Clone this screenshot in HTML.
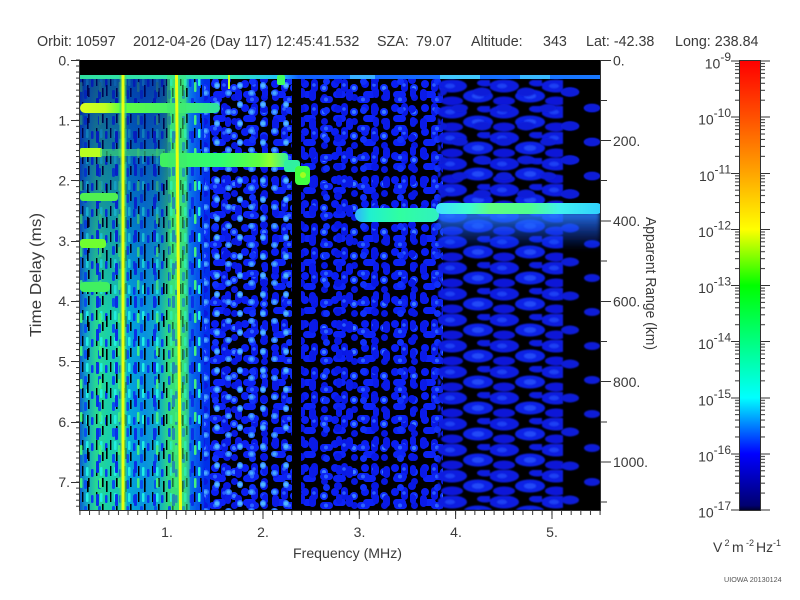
<!DOCTYPE html>
<html><head><meta charset="utf-8"><title>Ionogram</title>
<style>
html,body{margin:0;padding:0;background:#fff;width:800px;height:600px;overflow:hidden}
svg{display:block}
text{font-family:"Liberation Sans",Arial,Helvetica,sans-serif;fill:#3a3a3a}
</style></head><body>
<svg width="800" height="600" viewBox="0 0 800 600" xmlns="http://www.w3.org/2000/svg">
<defs>
<clipPath id="pc"><rect x="80" y="60" width="520" height="450"/></clipPath>
<linearGradient id="cb" x1="0" y1="0" x2="0" y2="1">
 <stop offset="0" stop-color="#ff0000"/>
 <stop offset="0.125" stop-color="#ff5000"/>
 <stop offset="0.25" stop-color="#ffa500"/>
 <stop offset="0.375" stop-color="#ffff00"/>
 <stop offset="0.5" stop-color="#00ff00"/>
 <stop offset="0.625" stop-color="#00ff80"/>
 <stop offset="0.75" stop-color="#00ffff"/>
 <stop offset="0.875" stop-color="#0000ff"/>
 <stop offset="0.99" stop-color="#000070"/>
 <stop offset="1" stop-color="#000030"/>
</linearGradient>
<linearGradient id="lg" gradientUnits="userSpaceOnUse" x1="80" y1="0" x2="205" y2="0">
 <stop offset="0" stop-color="#0a5cc8"/>
 <stop offset="0.048" stop-color="#10a0c8"/>
 <stop offset="0.128" stop-color="#28d890"/>
 <stop offset="0.224" stop-color="#18d0a8"/>
 <stop offset="0.312" stop-color="#18c8b0"/>
 <stop offset="0.384" stop-color="#00a8d8"/>
 <stop offset="0.52" stop-color="#0890e0"/>
 <stop offset="0.64" stop-color="#10b0c0"/>
 <stop offset="0.704" stop-color="#30d880"/>
 <stop offset="0.832" stop-color="#30d880"/>
 <stop offset="0.88" stop-color="#0878e8"/>
 <stop offset="1" stop-color="#0030ea"/>
</linearGradient>
<linearGradient id="td" gradientUnits="userSpaceOnUse" x1="0" y1="75" x2="0" y2="320">
 <stop offset="0" stop-color="#000a90" stop-opacity="0.65"/>
 <stop offset="1" stop-color="#000a90" stop-opacity="0"/>
</linearGradient>
<linearGradient id="s1" gradientUnits="userSpaceOnUse" x1="80" y1="0" x2="220" y2="0">
 <stop offset="0" stop-color="#d8ff20"/>
 <stop offset="0.18" stop-color="#c0ff20"/>
 <stop offset="0.29" stop-color="#60ff40"/>
 <stop offset="0.71" stop-color="#40f070"/>
 <stop offset="1" stop-color="#30e0a0"/>
</linearGradient>
<linearGradient id="s3" gradientUnits="userSpaceOnUse" x1="160" y1="0" x2="288" y2="0">
 <stop offset="0" stop-color="#40f060"/>
 <stop offset="0.47" stop-color="#30ff70"/>
 <stop offset="0.78" stop-color="#60ff40"/>
 <stop offset="0.86" stop-color="#90ff30"/>
 <stop offset="1" stop-color="#30f0a0"/>
</linearGradient>
<linearGradient id="s7" gradientUnits="userSpaceOnUse" x1="355" y1="0" x2="439" y2="0">
 <stop offset="0" stop-color="#30b0ff"/>
 <stop offset="0.18" stop-color="#20f0d0"/>
 <stop offset="0.54" stop-color="#30ffa0"/>
 <stop offset="1" stop-color="#30f0c0"/>
</linearGradient>
<linearGradient id="s8" gradientUnits="userSpaceOnUse" x1="436" y1="0" x2="602" y2="0">
 <stop offset="0" stop-color="#40e0ff"/>
 <stop offset="0.2" stop-color="#40ffd0"/>
 <stop offset="0.33" stop-color="#60ff80"/>
 <stop offset="0.57" stop-color="#50ff90"/>
 <stop offset="0.75" stop-color="#40f0f0"/>
 <stop offset="1" stop-color="#30d0ff"/>
</linearGradient>
<linearGradient id="hz" gradientUnits="userSpaceOnUse" x1="0" y1="213" x2="0" y2="250">
 <stop offset="0" stop-color="#2a80ff" stop-opacity="0.9"/>
 <stop offset="1" stop-color="#1040ff" stop-opacity="0"/>
</linearGradient>
<linearGradient id="tl" gradientUnits="userSpaceOnUse" x1="80" y1="0" x2="600" y2="0">
 <stop offset="0" stop-color="#30e0a0"/>
 <stop offset="0.29" stop-color="#30e8b0"/>
 <stop offset="0.385" stop-color="#20c0ff"/>
 <stop offset="0.42" stop-color="#1060ff"/>
 <stop offset="1" stop-color="#1878ff"/>
</linearGradient>
<pattern id="bp" width="30" height="24" patternUnits="userSpaceOnUse" x="0" y="79">
 <rect x="1" y="1" width="8" height="8" rx="4" fill="#0a1ef2"/>
 <rect x="11" y="0" width="7" height="13" rx="3.5" fill="#0818e6"/>
 <rect x="3" y="12" width="13" height="7" rx="3.5" fill="#0c22f6"/>
 <rect x="20" y="5" width="8" height="8" rx="4" fill="#1030ff"/>
 <rect x="21" y="15" width="7" height="7" rx="3.5" fill="#0818e0"/>
 <circle cx="24" cy="9" r="2" fill="#3c80ff"/>
 <circle cx="14" cy="6" r="1.8" fill="#2a5cff"/>
</pattern>
<pattern id="bq" width="37" height="29" patternUnits="userSpaceOnUse" x="11" y="86">
 <rect x="2" y="3" width="7" height="12" rx="3.5" fill="#0a1ae8"/>
 <rect x="13" y="10" width="13" height="7" rx="3.5" fill="#0c22f2"/>
 <rect x="27" y="19" width="8" height="8" rx="4" fill="#0818e4"/>
 <rect x="16" y="21" width="7" height="7" rx="3.5" fill="#1030fa"/>
 <rect x="29" y="2" width="6" height="10" rx="3" fill="#0a1cea"/>
 <circle cx="19" cy="13.5" r="2" fill="#2c64ff"/>
</pattern>
<pattern id="cs" width="23" height="19" patternUnits="userSpaceOnUse" x="5" y="80">
 <rect x="2" y="2" width="6" height="7" rx="3" fill="#2f7cff"/>
 <circle cx="5" cy="5.5" r="2" fill="#50b8ff"/>
 <rect x="13" y="10" width="7" height="6" rx="3" fill="#2a70ff"/>
 <circle cx="16.5" cy="13" r="1.8" fill="#48a8ff"/>
</pattern>
<pattern id="dp" width="52" height="26" patternUnits="userSpaceOnUse" x="438" y="80">
 <ellipse cx="14" cy="6" rx="15" ry="6.5" fill="#0a1ce0"/>
 <ellipse cx="40" cy="16" rx="15" ry="6.5" fill="#0c20e6"/>
 <ellipse cx="14" cy="21" rx="11" ry="4.5" fill="#0818d8"/>
 <ellipse cx="47" cy="3" rx="8" ry="3.5" fill="#0a1ce0"/>
 <ellipse cx="-5" cy="16" rx="8" ry="5" fill="#0c20e6"/>
 <ellipse cx="40" cy="16" rx="6" ry="2.8" fill="#2048f8"/>
 <ellipse cx="12" cy="6" rx="5" ry="2.2" fill="#1c40f4"/>
</pattern>
<pattern id="dq" width="44" height="34" patternUnits="userSpaceOnUse" x="560" y="84">
 <ellipse cx="10" cy="8" rx="9" ry="4.5" fill="#0a1ad8"/>
 <ellipse cx="32" cy="24" rx="8" ry="4" fill="#0a1ad8"/>
</pattern>
<pattern id="vs" width="14" height="26" patternUnits="userSpaceOnUse" x="80" y="75">
 <rect x="2" y="1" width="1.4" height="10" fill="#000"/>
 <rect x="8" y="13" width="1.6" height="9" fill="#000"/>
 <rect x="11" y="4" width="2.5" height="8" rx="1" fill="#0a3cf0"/>
 <rect x="4" y="15" width="3" height="9" rx="1.2" fill="#0850f0"/>
 <rect x="6" y="2" width="2.5" height="9" rx="1" fill="#20f0e0"/>
</pattern>
<pattern id="vs2" width="19" height="33" patternUnits="userSpaceOnUse" x="84" y="80">
 <rect x="3" y="5" width="1.6" height="11" fill="#000"/>
 <rect x="12" y="18" width="3" height="12" rx="1" fill="#0a30e8"/>
 <rect x="15" y="2" width="2.5" height="10" rx="1" fill="#40f080"/>
</pattern>
<pattern id="ym" width="10" height="6.03" patternUnits="userSpaceOnUse" x="0" y="59.5">
 <rect x="0" y="0" width="10" height="1" fill="#333"/>
</pattern>
<pattern id="xm" width="9.633" height="10" patternUnits="userSpaceOnUse" x="79.4" y="0">
 <rect x="0" y="0" width="1" height="10" fill="#333"/>
</pattern>
<pattern id="cm" width="800" height="56.125" patternUnits="userSpaceOnUse" x="0" y="61">
 <rect x="0" y="38.7" width="800" height="1" fill="#333"/>
 <rect x="0" y="28.8" width="800" height="1" fill="#333"/>
 <rect x="0" y="21.8" width="800" height="1" fill="#333"/>
 <rect x="0" y="16.4" width="800" height="1" fill="#333"/>
 <rect x="0" y="11.9" width="800" height="1" fill="#333"/>
 <rect x="0" y="8.2" width="800" height="1" fill="#333"/>
 <rect x="0" y="4.9" width="800" height="1" fill="#333"/>
 <rect x="0" y="2.1" width="800" height="1" fill="#333"/>
</pattern>
<filter id="bl" x="-5%" y="-5%" width="110%" height="110%"><feGaussianBlur stdDeviation="0.7"/></filter>
<filter id="bl2" x="-10%" y="-50%" width="120%" height="200%"><feGaussianBlur stdDeviation="2"/></filter>
</defs>

<!-- header -->
<g font-size="14.3">
<text x="37" y="46">Orbit: 10597</text>
<text x="133" y="46">2012-04-26 (Day 117) 12:45:41.532</text>
<text x="377" y="46">SZA:</text>
<text x="416" y="46">79.07</text>
<text x="471" y="46">Altitude:</text>
<text x="543" y="46">343</text>
<text x="586" y="46">Lat: -42.38</text>
<text x="675" y="46">Long: 238.84</text>
</g>

<!-- spectrogram -->
<g clip-path="url(#pc)">
<rect x="80" y="60" width="520" height="450" fill="#000"/>
<rect x="80" y="75" width="130" height="435" fill="url(#lg)"/>
<rect x="204" y="79" width="88" height="431" fill="url(#bp)"/>
<rect x="204" y="79" width="88" height="431" fill="url(#bq)"/>
<rect x="204" y="79" width="88" height="431" fill="url(#cs)"/>
<rect x="301" y="79" width="142" height="431" fill="url(#bp)"/>
<rect x="301" y="79" width="142" height="431" fill="url(#bq)"/>
<rect x="438" y="79" width="125" height="431" fill="url(#dp)" filter="url(#bl)"/>
<rect x="560" y="79" width="40" height="431" fill="url(#dq)" filter="url(#bl)"/>
<rect x="440" y="79" width="160" height="120" fill="url(#dq)" filter="url(#bl)"/>
<rect x="80" y="75" width="122" height="435" fill="url(#vs)"/>
<rect x="80" y="75" width="122" height="435" fill="url(#vs2)"/>
<rect x="80" y="75" width="90" height="245" fill="url(#td)"/>
<rect x="292" y="79" width="9" height="431" fill="#000"/>

<!-- horizontal echoes -->
<rect x="80" y="75" width="520" height="4" fill="url(#tl)"/>
<rect x="440" y="75" width="40" height="4" fill="#40c8ff"/>
<rect x="520" y="75" width="30" height="4" fill="#38b8ff"/>
<rect x="350" y="75" width="25" height="4" fill="#38b0ff"/>
<rect x="277" y="75" width="8" height="10" rx="2" fill="#40ff60"/>
<rect x="80" y="103" width="140" height="10" rx="5" fill="url(#s1)"/>
<rect x="80" y="148" width="22" height="9" rx="2" fill="#b8ff20"/>
<rect x="100" y="149" width="65" height="7" fill="#40e070" opacity="0.6"/>
<rect x="160" y="153" width="128" height="14" rx="3" fill="url(#s3)"/>
<rect x="284" y="160" width="16" height="12" rx="3" fill="#30f0a0"/>
<rect x="295" y="166" width="15" height="19" rx="4" fill="#40ff40"/>
<rect x="300" y="172" width="6" height="6" rx="3" fill="#a0ff20"/>
<rect x="80" y="193" width="38" height="8" rx="3" fill="#50f050"/>
<rect x="80" y="239" width="26" height="9" rx="3" fill="#70ff30"/>
<rect x="80" y="282" width="30" height="10" rx="4" fill="#40f060"/>
<rect x="438" y="212" width="162" height="40" fill="url(#hz)" filter="url(#bl2)"/>
<rect x="355" y="208" width="84" height="14" rx="7" fill="url(#s7)"/>
<rect x="436" y="203" width="166" height="11" rx="5" fill="url(#s8)"/>

<!-- vertical lines -->
<rect x="119.5" y="75" width="7" height="435" fill="#40e070" opacity="0.7"/>
<rect x="121.5" y="75" width="3" height="435" fill="#e8ff10"/>
<polygon points="167,75 186,75 190,510 171,510" fill="#40e870" opacity="0.5"/>
<polygon points="175,75 178,75 182,510 179,510" fill="#eaff10"/>
<rect x="228" y="75" width="2" height="14" fill="#c0ff20"/>
</g>

<!-- axes frame -->
<g stroke="#333" stroke-width="1" fill="none">
<path d="M79.5 60V510.5H600.5V60"/>
<path d="M71 60.5H80M71 120.5H80M71 180.5H80M71 241.5H80M71 301.5H80M71 361.5H80M71 422.5H80M71 482.5H80"/>
<path d="M166.6 510V519M263 510V519M359.3 510V519M455.6 510V519M552 510V519"/>
<path d="M600 60.5H611M600 140.5H611M600 221H611M600 301.5H611M600 381.5H611M600 462H611"/>
<path d="M600 100.5H607M600 180.5H607M600 261H607M600 341.5H607M600 422H607M600 502H607"/>
</g>
<rect x="76" y="59.5" width="4" height="451" fill="url(#ym)"/>
<rect x="79" y="510" width="522" height="5" fill="url(#xm)"/>

<!-- left tick labels -->
<g font-size="14" text-anchor="end">
<text x="70" y="65.5">0.</text>
<text x="70" y="125.5">1.</text>
<text x="70" y="185.5">2.</text>
<text x="70" y="246">3.</text>
<text x="70" y="306">4.</text>
<text x="70" y="366.5">5.</text>
<text x="70" y="427">6.</text>
<text x="70" y="487">7.</text>
</g>
<!-- bottom tick labels -->
<g font-size="14" text-anchor="middle">
<text x="167" y="537">1.</text>
<text x="263" y="537">2.</text>
<text x="359.5" y="537">3.</text>
<text x="456" y="537">4.</text>
<text x="552" y="537">5.</text>
</g>
<!-- right tick labels -->
<g font-size="14">
<text x="613" y="65.5">0.</text>
<text x="613" y="146">200.</text>
<text x="613" y="226">400.</text>
<text x="613" y="306.5">600.</text>
<text x="613" y="387">800.</text>
<text x="613" y="467">1000.</text>
</g>

<!-- axis titles -->
<text x="293" y="558" font-size="14" textLength="109" lengthAdjust="spacingAndGlyphs">Frequency (MHz)</text>
<text transform="translate(41,337) rotate(-90)" font-size="16" textLength="124" lengthAdjust="spacingAndGlyphs">Time Delay (ms)</text>
<text transform="translate(646,217) rotate(90)" font-size="15" textLength="133" lengthAdjust="spacingAndGlyphs">Apparent Range (km)</text>

<!-- colorbar -->
<rect x="740" y="61" width="20" height="449" fill="url(#cb)"/>
<rect x="739.5" y="60.5" width="21" height="450" fill="none" stroke="#333" stroke-width="1"/>
<g stroke="#333" stroke-width="1">
<path d="M731 61H740M731 117H740M731 173.5H740M731 229.5H740M731 285.5H740M731 341.5H740M731 398H740M731 454H740M731 510H740"/>
<path d="M760 61H770M760 117H770M760 173.5H770M760 229.5H770M760 285.5H770M760 341.5H770M760 398H770M760 454H770M760 510H770"/>
</g>
<rect x="735" y="61" width="5" height="449" fill="url(#cm)"/>
<rect x="760" y="61" width="5" height="449" fill="url(#cm)"/>
<g font-size="14" text-anchor="end">
<text x="731" y="68.5">10<tspan font-size="12" dy="-7.5">-9</tspan></text>
<text x="731" y="124.6">10<tspan font-size="12" dy="-7.5">-10</tspan></text>
<text x="731" y="180.8">10<tspan font-size="12" dy="-7.5">-11</tspan></text>
<text x="731" y="236.9">10<tspan font-size="12" dy="-7.5">-12</tspan></text>
<text x="731" y="293">10<tspan font-size="12" dy="-7.5">-13</tspan></text>
<text x="731" y="349.1">10<tspan font-size="12" dy="-7.5">-14</tspan></text>
<text x="731" y="405.3">10<tspan font-size="12" dy="-7.5">-15</tspan></text>
<text x="731" y="461.4">10<tspan font-size="12" dy="-7.5">-16</tspan></text>
<text x="731" y="517.5">10<tspan font-size="12" dy="-7.5">-17</tspan></text>
</g>

<!-- units -->
<text x="713" y="552" font-size="14">V</text>
<text x="724.5" y="546" font-size="9">2</text>
<text x="732" y="552" font-size="14">m</text>
<text x="746" y="546" font-size="9">-2</text>
<text x="756" y="552" font-size="14">Hz</text>
<text x="773" y="546" font-size="9">-1</text>

<text x="724" y="582" font-size="7.2" style="fill:#555">UIOWA 20130124</text>
</svg>
</body></html>
